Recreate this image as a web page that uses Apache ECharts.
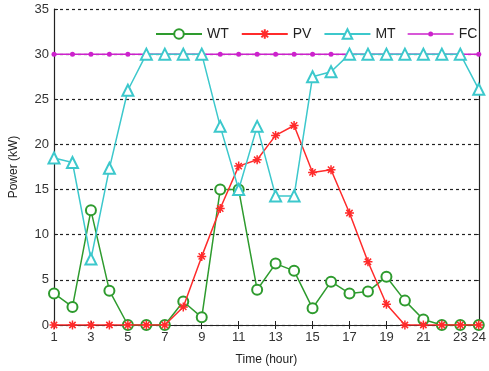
<!DOCTYPE html>
<html>
<head>
<meta charset="utf-8">
<script src="https://cdn.jsdelivr.net/npm/echarts@6/dist/echarts.min.js"></script>
<style>
  html, body { margin: 0; padding: 0; background: #fff; }
  #chart { width: 489px; height: 371px; }
</style>
</head>
<body>
<div id="chart"></div>
<script>
const hours = ['1','2','3','4','5','6','7','8','9','10','11','12','13','14','15','16','17','18','19','20','21','22','23','24'];
const wt = [3.5, 2.0, 12.7, 3.8, 0, 0, 0, 2.6, 0.85, 15, 15, 3.9, 6.8, 6.0, 1.85, 4.8, 3.5, 3.7, 5.35, 2.7, 0.6, 0, 0, 0];
const pv = [0, 0, 0, 0, 0, 0, 0, 2.0, 7.6, 12.9, 17.6, 18.3, 21.0, 22.1, 16.9, 17.2, 12.4, 7.0, 2.3, 0, 0, 0, 0, 0];
const mt = [18.5, 18.0, 7.3, 17.35, 26.0, 30, 30, 30, 30, 22.0, 15, 22.0, 14.3, 14.3, 27.5, 28.05, 30, 30, 30, 30, 30, 30, 30, 26.1];
const fc = [30, 30, 30, 30, 30, 30, 30, 30, 30, 30, 30, 30, 30, 30, 30, 30, 30, 30, 30, 30, 30, 30, 30, 30];

const font = 'Liberation Sans, Arial, sans-serif';
const star = 'path://M5 0L5 10M0 5L10 5M1.5 1.5L8.5 8.5M8.5 1.5L1.5 8.5';
// legend icon for FC: thin line with a small dot (pieces don't overlap)
const fcIcon = 'path://M0 5.3h20.6v1.4h-20.6z M25.4 5.3h20.6v1.4h-20.6z M20.5 6a2.5 2.5 0 1 0 5 0a2.5 2.5 0 1 0 -5 0z';

const chart = echarts.init(document.getElementById('chart'));

const shownLabel = (i) => i % 2 === 0 || i === 23;
const axisColor = '#222';

chart.setOption({
  animation: false,
  backgroundColor: '#fff',
  grid: { left: 54, right: 3, top: 9, bottom: 46 },
  legend: {
    top: 22,
    left: 150,
    itemWidth: 46,
    itemHeight: 12,
    itemGap: 12,
    textStyle: { fontFamily: font, fontSize: 14, color: '#222' },
    data: ['WT', 'PV', 'MT', { name: 'FC', icon: fcIcon }]
  },
  xAxis: [
    {
      type: 'category',
      data: hours,
      boundaryGap: false,
      name: 'Time (hour)',
      nameLocation: 'middle',
      nameGap: 29,
      nameTextStyle: { fontFamily: font, fontSize: 12, color: '#222' },
      axisLine: { lineStyle: { color: axisColor, width: 1.2 } },
      axisTick: { inside: true, length: 4, interval: (i) => i % 2 === 0, lineStyle: { color: axisColor } },
      axisLabel: { interval: (i) => shownLabel(i), fontFamily: font, fontSize: 13, color: '#333', margin: 6 },
      splitLine: { show: false }
    },
    {
      type: 'category',
      data: hours,
      boundaryGap: false,
      position: 'top',
      axisLine: { lineStyle: { color: axisColor, width: 1.2 } },
      axisTick: { inside: true, length: 4, interval: (i) => i % 2 === 0, lineStyle: { color: axisColor } },
      axisLabel: { show: false },
      splitLine: { show: false }
    }
  ],
  yAxis: [
    {
      type: 'value',
      min: 0,
      max: 35,
      interval: 5,
      name: 'Power (kW)',
      nameLocation: 'middle',
      nameGap: 34,
      nameTextStyle: { fontFamily: font, fontSize: 12, color: '#222' },
      axisLine: { show: true, lineStyle: { color: axisColor, width: 1.2 } },
      axisTick: { show: true, inside: true, length: 4, lineStyle: { color: axisColor } },
      axisLabel: { fontFamily: font, fontSize: 13, color: '#333', margin: 5 },
      splitLine: { show: true, lineStyle: { color: '#222', type: [3, 3], width: 1.2 } }
    },
    {
      type: 'value',
      min: 0,
      max: 35,
      interval: 5,
      position: 'right',
      axisLine: { show: true, lineStyle: { color: axisColor, width: 1.2 } },
      axisTick: { show: true, inside: true, length: 4, lineStyle: { color: axisColor } },
      axisLabel: { show: false },
      splitLine: { show: false }
    }
  ],
  series: [
    {
      name: 'WT', type: 'line', data: wt,
      symbol: 'emptyCircle', symbolSize: 10,
      lineStyle: { color: '#2e9b2e', width: 1.5 },
      itemStyle: { color: '#2e9b2e', borderWidth: 1.2 },
      z: 3
    },
    {
      name: 'PV', type: 'line', data: pv,
      symbol: star, symbolSize: 9,
      lineStyle: { color: '#ff2b2b', width: 1.5 },
      itemStyle: { color: '#ff2b2b', borderColor: '#ff2b2b', borderWidth: 1.5 },
      z: 4
    },
    {
      name: 'MT', type: 'line', data: mt,
      symbol: 'emptyTriangle', symbolSize: 11,
      lineStyle: { color: '#3cc8cc', width: 1.5 },
      itemStyle: { color: '#3cc8cc', borderWidth: 1.2 },
      z: 5
    },
    {
      name: 'FC', type: 'line', data: fc,
      symbol: 'circle', symbolSize: 5,
      lineStyle: { color: '#cc22cc', width: 1.5 },
      itemStyle: { color: '#cc22cc' },
      z: 2
    }
  ]
});
</script>
</body>
</html>
